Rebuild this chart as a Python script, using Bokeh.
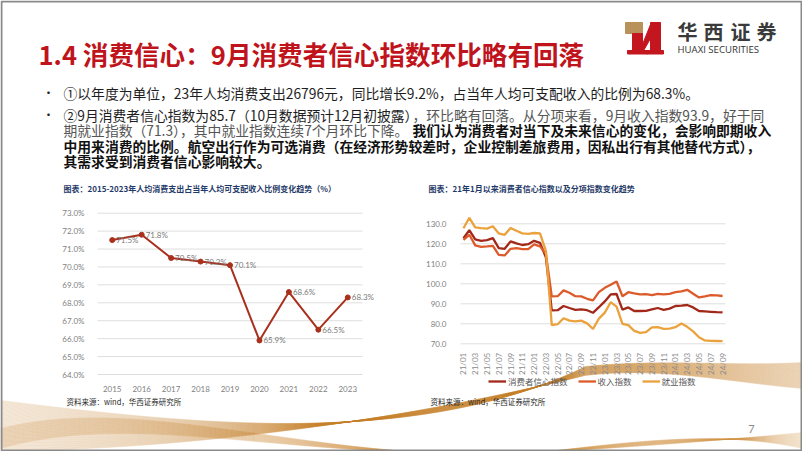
import numpy as np
from bokeh.plotting import figure
from bokeh.models import (Range1d, LinearAxis, FixedTicker, PrintfTickFormatter,
                          Legend, LegendItem)
from bokeh.core.properties import value
from bokeh.embed import file_html
from bokeh.resources import INLINE

# ---------------- data ----------------
years = ["2015", "2016", "2017", "2018", "2019", "2020", "2021", "2022", "2023"]
spend_ratio = [71.5, 71.8, 70.5, 70.3, 70.1, 65.9, 68.6, 66.5, 68.3]
ratio_ticks = [64, 65, 66, 67, 68, 69, 70, 71, 72, 73]

months = ["21/01", "21/02", "21/03", "21/04", "21/05", "21/06", "21/07", "21/08", "21/09", "21/10", "21/11", "21/12",
          "22/01", "22/02", "22/03", "22/04", "22/05", "22/06", "22/07", "22/08", "22/09", "22/10", "22/11", "22/12",
          "23/01", "23/02", "23/03", "23/04", "23/05", "23/06", "23/07", "23/08", "23/09", "23/10", "23/11", "23/12",
          "24/01", "24/02", "24/03", "24/04", "24/05", "24/06", "24/07", "24/08", "24/09"]
confidence = [122.8, 126.8, 122.2, 121.5, 121.8, 122.8, 117.8, 117.5, 121.2, 120.2, 119.4, 119.8,
              121.5, 120.5, 113.2, 86.7, 86.8, 88.9, 87.9, 87.0, 87.2, 86.8, 85.5, 88.3,
              91.2, 94.7, 94.9, 87.1, 88.2, 86.4, 86.4, 86.5, 87.2, 87.9, 87.0, 87.6,
              88.9, 89.1, 89.4, 88.2, 86.4, 86.2, 86.0, 85.8, 85.7]
income = [122.0, 124.5, 119.2, 118.5, 118.7, 119.0, 114.5, 114.2, 117.5, 117.8, 117.3, 117.3,
          119.7, 118.7, 115.0, 93.7, 93.8, 96.7, 95.5, 93.8, 93.7, 92.5, 91.7, 95.8,
          98.0, 99.5, 101.2, 93.8, 95.8, 95.2, 94.7, 94.8, 94.3, 95.0, 94.7, 95.0,
          95.8, 96.2, 97.0, 95.0, 93.2, 93.7, 94.3, 94.2, 93.9]
employment = [127.8, 133.0, 128.2, 127.8, 127.6, 128.8, 125.2, 124.5, 127.9, 126.5, 125.2, 125.0,
              125.4, 125.2, 116.5, 79.3, 79.8, 82.8, 81.6, 81.2, 81.6, 80.2, 77.4, 82.6,
              85.6, 90.8, 88.6, 80.0, 79.3, 76.5, 75.5, 75.8, 78.2, 78.3, 77.5, 77.6,
              78.3, 80.1, 78.5, 76.2, 73.3, 71.7, 71.5, 71.4, 71.3]
index_ticks = [70, 80, 90, 100, 110, 120, 130]
series_names = ["消费者信心指数", "收入指数", "就业指数"]
series_colors = ["#A2281A", "#DD5A2A", "#EBA23C"]

title_text = "1.4 消费信心：9月消费者信心指数环比略有回落"
left_title = "图表：2015-2023年人均消费支出占当年人均可支配收入比例变化趋势（%）"
right_title = "图表：21年1月以来消费者信心指数以及分项指数变化趋势"
source_text = "资料来源：wind，华西证券研究所"

# ---------------- page ----------------
W, H = 802, 451
CJK = "Noto Sans CJK SC"
NUM = "Lato"

p = figure(width=W, height=H, x_range=Range1d(0, W), y_range=Range1d(H, 0),
           x_axis_type=None, y_axis_type=None, output_backend="svg",
           toolbar_location=None, min_border=0, outline_line_color=None,
           background_fill_color="white", border_fill_color="white")
p.grid.visible = False


def mapped_range(v_a, px_a, v_b, px_b, total, vertical):
    k = (v_b - v_a) / (px_b - px_a)
    v0 = v_a - px_a * k
    v1 = v_a + (total - px_a) * k
    if vertical:
        return Range1d(start=v1, end=v0)
    return Range1d(start=v0, end=v1)


p.extra_x_ranges = {
    "lx": mapped_range(-0.5, 97, len(years) - 0.5, 362, W, False),
    "rx": mapped_range(-0.5, 460, len(months) - 0.5, 725, W, False),
}
p.extra_y_ranges = {
    "ly": mapped_range(ratio_ticks[0], 374, ratio_ticks[-1], 212.7, H, True),
    "ry": mapped_range(index_ticks[0], 343.3, index_ticks[-1], 223.3, H, True),
}

# ---------------- background waves ----------------
def bez(p0, p1, p2, p3, n=80):
    t = np.linspace(0, 1, n)
    a, b, c, d = (1 - t) ** 3, 3 * (1 - t) ** 2 * t, 3 * (1 - t) * t ** 2, t ** 3
    return (a * p0[0] + b * p1[0] + c * p2[0] + d * p3[0],
            a * p0[1] + b * p1[1] + c * p2[1] + d * p3[1])

wx, wy = [], []
for k in range(60):
    s = k / 59
    x1, y1 = bez((0, 400 + 50 * s), (200, 425 + 25 * s), (420, 447 - 32 * s), (585, 366 + 9 * s))
    x2, y2 = bez((585, 366 + 9 * s), (660, 358 + 8 * s), (730, 366 + 16 * s), (802, 362 + 26 * s))
    wx.append(np.concatenate([x1, x2]).tolist())
    wy.append(np.concatenate([y1, y2]).tolist())
p.multi_line(wx, wy, line_color="#C4822A", line_alpha=0.22, line_width=0.8)

bx, by = [], []
for k in range(36):
    s = k / 35
    x1, y1 = bez((0, 428 + 20 * s), (120, 398 + 16 * s), (250, 440 + 8 * s), (420, 452))
    bx.append(x1.tolist()); by.append(y1.tolist())
for k in range(36):
    s = k / 35
    x1, y1 = bez((540, 452), (640, 446 - 6 * s), (720, 440 - 10 * s), (802, 432 + 16 * s))
    bx.append(x1.tolist()); by.append(y1.tolist())
p.multi_line(bx, by, line_color="#CC9040", line_alpha=0.16, line_width=0.8)

# border of the slide
p.quad(left=1, right=W - 1, top=1, bottom=H - 1, fill_color=None,
       line_color="#8a8a8a", line_width=2)

# ---------------- header ----------------
p.text(x=38, y=53, text=[title_text], text_font=value(CJK), text_font_size="25.6px",
       text_font_style="bold", text_color="#C0141C", text_baseline="middle")

logo_red = "#C3161E"
p.patch([625, 642, 642, 625], [22, 22, 33, 33], color="#B8925A")
p.patches([[632, 642, 642, 632], [650, 660, 660, 650], [627, 647, 647, 627],
           [646, 663, 663, 646], [642, 650, 658, 642]],
          [[33, 33, 52, 52], [22, 22, 52, 52], [50, 50, 53.5, 53.5],
           [50, 50, 53.5, 53.5], [44, 24, 24, 52]], color=logo_red)
p.text(x=[687, 713, 740, 766], y=[31, 31, 31, 31], text=list("华西证券"),
       text_font=value(CJK), text_font_size="20px", text_font_style="bold",
       text_color="#3a3a3a", text_align="center", text_baseline="middle")
p.text(x=677, y=48.5, text=["HUAXI SECURITIES"], text_font=value("Open Sans"),
       text_font_size="9.6px", text_color="#333333", text_baseline="middle")

# ---------------- body text ----------------
BODY = "13.8px"
p.text(x=[42, 42], y=[92, 114], text=["•", "•"], text_font=value(CJK),
       text_font_size="12px", text_color="#222222", text_baseline="middle")
body = [
    (63, 92, "①以年度为单位，23年人均消费支出26796元，同比增长9.2%，占当年人均可支配收入的比例为68.3%。", "normal", "#1e1e1e"),
    (63, 114, "②9月消费者信心指数为85.7（10月数据预计12月初披露）", "normal", "#1e1e1e"),
    (412, 114, "，环比略有回落。从分项来看，9月收入指数93.9，好于同", "normal", "#555555"),
    (63, 129.5, "期就业指数（71.3），其中就业指数连续7个月环比下降。", "normal", "#555555"),
    (412, 129.5, "我们认为消费者对当下及未来信心的变化，会影响即期收入", "bold", "#111111"),
    (63, 145, "中用来消费的比例。航空出行作为可选消费（在经济形势较差时，企业控制差旅费用，因私出行有其他替代方式），", "bold", "#111111"),
    (63, 160.5, "其需求受到消费者信心影响较大。", "bold", "#111111"),
]
for bx_, by_, t, st, col in body:
    p.text(x=bx_, y=by_, text=[t], text_font=value(CJK), text_font_size=BODY,
           text_font_style=st, text_color=col, text_baseline="middle")

for tx, t in [(63, left_title), (428, right_title)]:
    p.text(x=tx, y=188, text=[t], text_font=value(CJK), text_font_size="8px",
           text_font_style="bold", text_color="#1F3A68", text_baseline="middle")
for tx in [66, 430]:
    p.text(x=tx, y=401, text=[source_text], text_font=value(CJK), text_font_size="7.5px",
           text_color="#262626", text_baseline="middle")
p.text(x=751, y=428, text=["7"], text_font=value(NUM), text_font_size="11px",
       text_color="#8c8c8c", text_baseline="middle", text_align="center")


def style_axis(ax, standoff):
    ax.axis_line_color = None
    ax.major_tick_line_color = None
    ax.minor_tick_line_color = None
    ax.major_label_text_font = NUM
    ax.major_label_text_font_size = "8px"
    ax.major_label_text_color = "#7f7f7f"
    ax.major_label_standoff = standoff


# ---------------- left chart ----------------
yi = list(range(len(years)))
p.segment(x0=-0.5, x1=len(years) - 0.5, y0=ratio_ticks, y1=ratio_ticks,
          x_range_name="lx", y_range_name="ly", line_color="#dedede", line_width=1)
ly_ax = LinearAxis(x_range_name="lx", y_range_name="ly", fixed_location=-0.5,
                   bounds=(ratio_ticks[0], ratio_ticks[-1]),
                   ticker=FixedTicker(ticks=ratio_ticks),
                   formatter=PrintfTickFormatter(format="%.1f%%"))
style_axis(ly_ax, 7)
p.add_layout(ly_ax, "left")
lx_ax = LinearAxis(x_range_name="lx", y_range_name="ly", fixed_location=ratio_ticks[0],
                   bounds=(-0.5, len(years) - 0.5), ticker=FixedTicker(ticks=yi),
                   major_label_overrides={i: y for i, y in enumerate(years)})
style_axis(lx_ax, 5)
p.add_layout(lx_ax, "below")

p.line(yi, spend_ratio, x_range_name="lx", y_range_name="ly", line_color="#A8301D", line_width=2)
p.scatter(yi, spend_ratio, x_range_name="lx", y_range_name="ly", size=5,
          fill_color="#A8301D", line_color="#A8301D")
p.text(yi, spend_ratio, text=[f"{v:.1f}%" for v in spend_ratio], x_range_name="lx",
       y_range_name="ly", x_offset=4, text_font=value(NUM), text_font_size="8px",
       text_color="#7a7a7a", text_baseline="middle", text_align="left")

# ---------------- right chart ----------------
mi = list(range(len(months)))
p.segment(x0=-0.5, x1=len(months) - 0.5, y0=index_ticks, y1=index_ticks,
          x_range_name="rx", y_range_name="ry", line_color="#dedede", line_width=1)
ry_ax = LinearAxis(x_range_name="rx", y_range_name="ry", fixed_location=-0.5,
                   bounds=(index_ticks[0], index_ticks[-1]),
                   ticker=FixedTicker(ticks=index_ticks),
                   formatter=PrintfTickFormatter(format="%.1f"))
style_axis(ry_ax, 8)
p.add_layout(ry_ax, "left")
rx_ax = LinearAxis(x_range_name="rx", y_range_name="ry", fixed_location=index_ticks[0],
                   bounds=(-0.5, len(months) - 0.5), ticker=FixedTicker(ticks=mi[::2]),
                   major_label_overrides={i: months[i] for i in mi[::2]})
style_axis(rx_ax, 3)
rx_ax.major_label_orientation = np.pi / 2
rx_ax.major_label_text_color = "#8c8c8c"
p.add_layout(rx_ax, "below")

items = []
for vals, name, col in zip([confidence, income, employment], series_names, series_colors):
    r = p.line(mi, vals, x_range_name="rx", y_range_name="ry", line_color=col, line_width=2.3)
    items.append(LegendItem(label=name, renderers=[r]))

legend = Legend(items=items, location=(488, H - 387), orientation="horizontal",
                glyph_width=18, glyph_height=10, label_height=12, label_standoff=2,
                spacing=10, padding=0, margin=0, border_line_color=None,
                background_fill_alpha=0, label_text_font=CJK,
                label_text_font_size="8.5px", label_text_color="#595959")
p.add_layout(legend)

open("out.html", "w").write(file_html(p, INLINE))
